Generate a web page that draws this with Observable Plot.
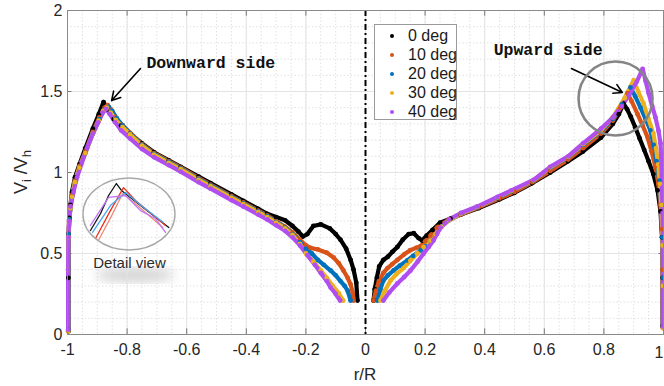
<!DOCTYPE html>
<html>
<head>
<meta charset="utf-8">
<script src="https://cdn.jsdelivr.net/npm/d3@7"></script>
<script src="https://cdn.jsdelivr.net/npm/@observablehq/plot@0.6"></script>
<style>
  html, body { margin: 0; padding: 0; background: #fff; }
  #wrap { position: relative; width: 664px; height: 386px; font-family: "Liberation Sans", Arial, sans-serif; }
  #legend { position: absolute; left: 374px; top: 24px; width: 83px; height: 96px; border: 1px solid #9a9a9a; background: #fff; box-sizing: border-box; }
  .lg { position: absolute; left: 0; font-size: 16px; color: #1a1a1a; line-height: 16px; }
  .lg .d { position: absolute; left: 15px; top: 6px; width: 4px; height: 4px; border-radius: 2px; }
  .lg .t { position: absolute; left: 33px; top: 0; white-space: nowrap; }
</style>
</head>
<body>
<div id="wrap"></div>
<script>
// ---- data ----
const seriesNames = ["0 deg", "10 deg", "20 deg", "30 deg", "40 deg"];
const seriesColors = ["#000000", "#D95319", "#0072BD", "#EDB120", "#B04EF0"];
const xTicks = [-1, -0.8, -0.6, -0.4, -0.2, 0, 0.2, 0.4, 0.6, 0.8, 1];
const yTicks = [0, 0.5, 1, 1.5, 2];

const deg0Left = [[-0.997,0.02],[-0.997,0.35],[-0.996,0.62],[-0.994,0.72],[-0.99,0.8],[-0.985,0.88],[-0.975,0.97],[-0.96,1.05],[-0.94,1.15],[-0.915,1.27],[-0.895,1.36],[-0.879,1.435],[-0.865,1.39],[-0.845,1.33],[-0.82,1.29],[-0.79,1.24],[-0.75,1.18],[-0.71,1.125],[-0.66,1.075],[-0.62,1.035],[-0.56,0.975],[-0.52,0.935],[-0.45,0.865],[-0.41,0.825],[-0.36,0.775],[-0.33,0.745],[-0.3,0.725],[-0.27,0.705],[-0.245,0.67],[-0.225,0.635],[-0.21,0.605],[-0.195,0.62],[-0.175,0.67],[-0.15,0.68],[-0.12,0.655],[-0.1,0.62],[-0.084,0.585],[-0.065,0.53],[-0.05,0.46],[-0.04,0.4],[-0.031,0.32],[-0.027,0.21]];
const deg10Left = [[-0.997,0.03],[-0.997,0.4],[-0.996,0.62],[-0.994,0.71],[-0.99,0.79],[-0.985,0.86],[-0.975,0.95],[-0.96,1.04],[-0.94,1.13],[-0.915,1.25],[-0.893,1.34],[-0.875,1.4],[-0.865,1.415],[-0.855,1.39],[-0.84,1.34],[-0.815,1.29],[-0.79,1.245],[-0.75,1.175],[-0.71,1.12],[-0.66,1.07],[-0.62,1.03],[-0.56,0.965],[-0.52,0.925],[-0.45,0.855],[-0.41,0.815],[-0.36,0.765],[-0.33,0.735],[-0.3,0.7],[-0.27,0.665],[-0.245,0.63],[-0.22,0.585],[-0.2,0.55],[-0.185,0.535],[-0.16,0.525],[-0.13,0.505],[-0.107,0.475],[-0.09,0.44],[-0.074,0.395],[-0.06,0.35],[-0.05,0.31],[-0.043,0.26],[-0.04,0.21]];
const deg20Left = [[-0.997,0.03],[-0.997,0.4],[-0.996,0.62],[-0.994,0.71],[-0.99,0.78],[-0.985,0.85],[-0.975,0.94],[-0.96,1.03],[-0.94,1.12],[-0.915,1.24],[-0.893,1.33],[-0.875,1.39],[-0.862,1.405],[-0.85,1.38],[-0.835,1.335],[-0.815,1.29],[-0.79,1.24],[-0.75,1.17],[-0.71,1.115],[-0.66,1.065],[-0.62,1.025],[-0.56,0.96],[-0.52,0.92],[-0.45,0.85],[-0.41,0.81],[-0.36,0.76],[-0.33,0.73],[-0.3,0.695],[-0.27,0.66],[-0.245,0.62],[-0.22,0.57],[-0.2,0.53],[-0.18,0.5],[-0.16,0.46],[-0.14,0.43],[-0.117,0.395],[-0.1,0.365],[-0.084,0.33],[-0.07,0.3],[-0.06,0.27],[-0.05,0.21]];
const deg30Left = [[-0.998,0.02],[-0.998,0.4],[-0.997,0.6],[-0.995,0.7],[-0.99,0.78],[-0.985,0.85],[-0.975,0.94],[-0.96,1.03],[-0.94,1.12],[-0.915,1.24],[-0.895,1.32],[-0.88,1.38],[-0.868,1.4],[-0.855,1.37],[-0.838,1.325],[-0.815,1.28],[-0.79,1.235],[-0.75,1.165],[-0.71,1.11],[-0.66,1.06],[-0.62,1.02],[-0.56,0.955],[-0.52,0.915],[-0.45,0.845],[-0.41,0.805],[-0.36,0.755],[-0.33,0.725],[-0.3,0.69],[-0.27,0.655],[-0.245,0.615],[-0.22,0.56],[-0.2,0.5],[-0.175,0.45],[-0.15,0.395],[-0.13,0.35],[-0.11,0.3],[-0.09,0.255],[-0.075,0.21]];
const deg40Left = [[-0.998,0.03],[-0.998,0.4],[-0.997,0.6],[-0.995,0.7],[-0.99,0.79],[-0.98,0.88],[-0.968,0.97],[-0.952,1.06],[-0.935,1.15],[-0.915,1.24],[-0.897,1.31],[-0.882,1.37],[-0.87,1.392],[-0.858,1.36],[-0.84,1.31],[-0.82,1.26],[-0.79,1.21],[-0.75,1.145],[-0.71,1.095],[-0.66,1.045],[-0.62,1.005],[-0.56,0.94],[-0.52,0.9],[-0.45,0.83],[-0.41,0.79],[-0.36,0.74],[-0.33,0.71],[-0.3,0.675],[-0.27,0.64],[-0.245,0.6],[-0.22,0.55],[-0.195,0.49],[-0.17,0.43],[-0.15,0.38],[-0.13,0.33],[-0.117,0.29],[-0.1,0.25],[-0.085,0.21]];

const deg0Right = [[0.027,0.21],[0.031,0.28],[0.038,0.35],[0.046,0.42],[0.06,0.46],[0.075,0.48],[0.09,0.51],[0.107,0.54],[0.125,0.585],[0.145,0.62],[0.162,0.625],[0.178,0.595],[0.19,0.58],[0.205,0.61],[0.225,0.645],[0.25,0.69],[0.285,0.715],[0.32,0.74],[0.38,0.78],[0.45,0.835],[0.5,0.875],[0.56,0.935],[0.62,1.0],[0.68,1.07],[0.73,1.13],[0.79,1.215],[0.83,1.3],[0.85,1.36],[0.866,1.425],[0.878,1.39],[0.89,1.345],[0.905,1.28],[0.92,1.21],[0.935,1.14],[0.95,1.07],[0.966,0.99],[0.98,0.89],[0.99,0.76],[0.995,0.6],[0.997,0.35],[0.997,0.05]];
const deg10Right = [[0.027,0.21],[0.035,0.27],[0.045,0.33],[0.06,0.38],[0.074,0.41],[0.09,0.435],[0.107,0.46],[0.13,0.495],[0.15,0.52],[0.17,0.535],[0.185,0.545],[0.2,0.575],[0.218,0.61],[0.24,0.66],[0.28,0.71],[0.32,0.74],[0.38,0.785],[0.45,0.84],[0.5,0.88],[0.56,0.94],[0.62,1.01],[0.68,1.08],[0.73,1.15],[0.79,1.24],[0.83,1.32],[0.855,1.4],[0.879,1.49],[0.893,1.44],[0.913,1.36],[0.93,1.29],[0.946,1.22],[0.96,1.13],[0.972,1.04],[0.983,0.93],[0.99,0.8],[0.995,0.65],[0.997,0.4],[0.998,0.04]];
const deg20Right = [[0.04,0.21],[0.05,0.28],[0.06,0.333],[0.075,0.365],[0.094,0.395],[0.115,0.425],[0.14,0.457],[0.16,0.485],[0.185,0.52],[0.2,0.545],[0.218,0.58],[0.235,0.62],[0.255,0.665],[0.28,0.705],[0.32,0.745],[0.375,0.785],[0.443,0.845],[0.49,0.885],[0.564,0.95],[0.62,1.03],[0.68,1.095],[0.73,1.17],[0.79,1.255],[0.83,1.33],[0.86,1.42],[0.889,1.525],[0.905,1.47],[0.923,1.4],[0.94,1.33],[0.956,1.26],[0.967,1.17],[0.977,1.07],[0.986,0.95],[0.992,0.8],[0.996,0.6],[0.998,0.35],[0.998,0.05]];
const deg30Right = [[0.05,0.21],[0.065,0.27],[0.084,0.333],[0.105,0.375],[0.128,0.41],[0.15,0.455],[0.174,0.5],[0.195,0.54],[0.218,0.58],[0.235,0.62],[0.255,0.665],[0.28,0.705],[0.32,0.745],[0.375,0.787],[0.443,0.847],[0.49,0.887],[0.564,0.952],[0.62,1.032],[0.68,1.097],[0.73,1.175],[0.79,1.26],[0.83,1.34],[0.87,1.46],[0.9,1.57],[0.915,1.5],[0.933,1.426],[0.95,1.33],[0.966,1.24],[0.975,1.15],[0.982,1.05],[0.988,0.93],[0.993,0.8],[0.997,0.55],[0.998,0.3],[0.998,0.04]];
const deg40Right = [[0.06,0.21],[0.08,0.26],[0.107,0.315],[0.13,0.355],[0.151,0.395],[0.175,0.45],[0.195,0.5],[0.212,0.54],[0.228,0.58],[0.24,0.62],[0.252,0.66],[0.28,0.71],[0.32,0.75],[0.375,0.79],[0.443,0.85],[0.49,0.89],[0.564,0.955],[0.62,1.035],[0.68,1.1],[0.73,1.18],[0.79,1.27],[0.83,1.34],[0.86,1.41],[0.885,1.48],[0.91,1.56],[0.93,1.64],[0.94,1.565],[0.95,1.49],[0.962,1.41],[0.973,1.34],[0.983,1.26],[0.99,1.18],[0.993,1.05],[0.995,0.9],[0.997,0.75],[0.998,0.5],[0.998,0.25],[0.998,0.05]];

// detail-view inset sketch (zoomed peak, drawn inside the small ellipse)
const insetBlack  = [[-0.923,0.642],[-0.889,0.747],[-0.862,0.858],[-0.836,0.932],[-0.819,0.889],[-0.755,0.796],[-0.66,0.66]];
const insetRed    = [[-0.906,0.593],[-0.856,0.765],[-0.812,0.907],[-0.772,0.827],[-0.671,0.673]];
const insetSalmon = [[-0.895,0.585],[-0.85,0.74],[-0.815,0.87],[-0.78,0.82],[-0.68,0.66]];
const insetBlue   = [[-0.916,0.63],[-0.856,0.796],[-0.805,0.877],[-0.755,0.8],[-0.678,0.691]];
const insetPurple = [[-0.923,0.673],[-0.862,0.846],[-0.805,0.858],[-0.755,0.765],[-0.705,0.716],[-0.671,0.63]];

const annotations = [
  {text: "Downward side", x: -0.735, y: 1.68},
  {text: "Upward side", x: 0.43, y: 1.76}
];
const arrows = [
  {x1: -0.755, y1: 1.642, x2: -0.852, y2: 1.444},
  {x1: 0.691, y1: 1.642, x2: 0.862, y2: 1.494}
];
const highlight = [{x: 0.839, y: 1.457}];
const detailView = {x: -0.792, y: 0.741, label: "Detail view", labelY: 0.438};

// ---- build table ----
const seriesData = [
  [deg0Left, deg0Right], [deg10Left, deg10Right], [deg20Left, deg20Right],
  [deg30Left, deg30Right], [deg40Left, deg40Right]
];
const rows = [];
seriesData.forEach((sides, i) => {
  sides.forEach((pts, s) => {
    pts.forEach(([r, v]) => rows.push({r, v, series: seriesNames[i], key: seriesNames[i] + (s ? "R" : "L")}));
  });
});
const insetRows = [];
[[insetBlack, "#111"], [insetRed, "#e8321e"], [insetSalmon, "#f08a7a"], [insetBlue, "#4aa8ee"], [insetPurple, "#c276f2"]]
  .forEach(([pts, c], i) => pts.forEach(([r, v]) => insetRows.push({r, v, c, k: i})));

const xMinor = d3.range(-1, 1.0001, 0.05).map(d => +d.toFixed(2));
const yMinor = d3.range(0, 2.0001, 0.1).map(d => +d.toFixed(2));
const xTicksInner = xTicks.filter(d => d < 1);
const xTickLast = xTicks.filter(d => d === 1);

const plot = Plot.plot({
  width: 664,
  height: 386,
  marginLeft: 67,
  marginRight: 1,
  marginTop: 10,
  marginBottom: 52,
  style: {fontFamily: "Liberation Sans, Arial, sans-serif", background: "#fff"},
  x: {domain: [-1, 1]},
  y: {domain: [0, 2]},
  color: {domain: seriesNames, range: seriesColors},
  marks: [
    Plot.ruleX(xMinor, {stroke: "#d9d9d9", strokeWidth: 0.8, strokeDasharray: "1.5,2"}),
    Plot.ruleY(yMinor, {stroke: "#d9d9d9", strokeWidth: 0.8, strokeDasharray: "1.5,2"}),
    Plot.ruleX(xTicks, {stroke: "#e4e4e4", strokeWidth: 1}),
    Plot.ruleY(yTicks, {stroke: "#e4e4e4", strokeWidth: 1}),
    Plot.axisX({ticks: xTicksInner, tickSize: 0, tickPadding: 9, fontSize: 16, label: null, tickFormat: d => String(d), color: "#262626"}),
    Plot.text(xTickLast, {x: d => d, y: () => 0, text: d => String(d), textAnchor: "end", dy: 18, fontSize: 16, fill: "#262626"}),
    Plot.axisY({ticks: yTicks, tickSize: 0, tickPadding: 5, fontSize: 16, label: null, tickFormat: d => String(d), color: "#262626"}),
    // inward ticks
    Plot.ruleX(xTicks, {y1: 0, y2: 0.035, stroke: "#777"}),
    Plot.ruleX(xTicks, {y1: 2, y2: 1.965, stroke: "#777"}),
    Plot.ruleY(yTicks, {x1: -1, x2: -0.985, stroke: "#777"}),
    Plot.ruleY(yTicks, {x1: 1, x2: 0.985, stroke: "#777"}),
    // center line
    Plot.ruleX([0], {stroke: "#000", strokeWidth: 2, strokeDasharray: "6,3,2,3"}),
    // data
    Plot.line(rows, {x: "r", y: "v", z: "key", stroke: "series", strokeWidth: 4.2, strokeLinejoin: "round", strokeLinecap: "round", curve: "linear"}),
    Plot.dot(rows, {x: "r", y: "v", fill: "series", r: 2.4, stroke: null}),
    // inset lines
    Plot.line(insetRows, {x: "r", y: "v", z: "k", stroke: "c", strokeWidth: 1.3}),
    Plot.text([detailView], {x: "x", y: "labelY", text: "label", fontSize: 15, fill: "#2b2b2b", fontFamily: "Liberation Sans, Arial, sans-serif"}),
    // annotations
    Plot.text(annotations, {x: "x", y: "y", text: "text", textAnchor: "start", fontFamily: "Liberation Mono, Courier New, monospace", fontWeight: "bold", fontSize: 16.5, fill: "#111"}),
    Plot.arrow(arrows, {x1: "x1", y1: "y1", x2: "x2", y2: "y2", stroke: "#000", strokeWidth: 1.6, headLength: 9}),
    Plot.dot(highlight, {x: "x", y: "y", r: 37, stroke: "#858585", strokeWidth: 2.6, fill: "none"}),
    Plot.frame({stroke: "#8a8a8a", strokeWidth: 1})
  ]
});

const svg = d3.select(plot);
const xs = plot.scale("x"), ys = plot.scale("y");
// detail view ellipse (shadow + outline)
const defs = svg.append("defs");
defs.append("filter").attr("id", "blur").append("feGaussianBlur").attr("stdDeviation", 6);
svg.insert("ellipse", ":first-child")
  .attr("cx", xs.apply(detailView.x) + 6).attr("cy", ys.apply(detailView.labelY) + 12)
  .attr("rx", 40).attr("ry", 7).attr("fill", "#000").attr("opacity", 0.18).attr("filter", "url(#blur)");
svg.insert("rect", ":first-child").attr("width", 664).attr("height", 386).attr("fill", "#fff");
svg.append("ellipse")
  .attr("cx", xs.apply(detailView.x)).attr("cy", ys.apply(detailView.y))
  .attr("rx", 46).attr("ry", 36).attr("fill", "none").attr("stroke", "#a8a8a8").attr("stroke-width", 1.4);

// axis titles
svg.append("text").attr("x", xs.apply(0)).attr("y", 380)
  .attr("text-anchor", "middle").attr("font-size", 17).attr("fill", "#262626").text("r/R");
const yl = svg.append("text").attr("transform", `translate(27,${ys.apply(1)}) rotate(-90)`)
  .attr("text-anchor", "middle").attr("font-size", 18).attr("fill", "#262626");
yl.append("tspan").text("V");
yl.append("tspan").attr("font-size", 13).attr("dy", 4).text("i");
yl.append("tspan").attr("dy", -4).text(" /V");
yl.append("tspan").attr("font-size", 13).attr("dy", 4).text("h");

const wrap = document.getElementById("wrap");
wrap.appendChild(plot);

// legend
const lg = document.createElement("div");
lg.id = "legend";
seriesNames.forEach((name, i) => {
  const row = document.createElement("div");
  row.className = "lg";
  row.style.top = (3 + i * 19) + "px";
  row.innerHTML = `<span class="d" style="background:${seriesColors[i]}"></span><span class="t">${name}</span>`;
  lg.appendChild(row);
});
wrap.appendChild(lg);
</script>
</body>
</html>
